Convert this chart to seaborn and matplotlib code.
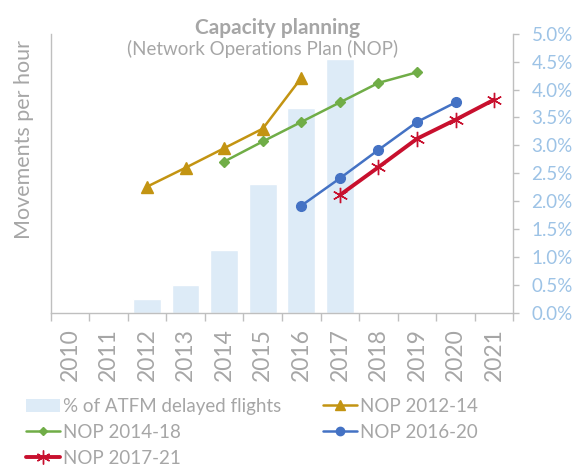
import numpy as np
import pandas as pd
import seaborn as sns
import matplotlib.pyplot as plt
from matplotlib.patches import Patch
from matplotlib.lines import Line2D
from matplotlib.ticker import FixedLocator, FuncFormatter


# data
years = ["2010", "2011", "2012", "2013", "2014", "2015",
         "2016", "2017", "2018", "2019", "2020", "2021"]
delayed_pct = [0.0, 0.0, 0.25, 0.50, 1.13, 2.31, 3.67, 4.55, 0.0, 0.0, 0.0, 0.0]

nop_1214_years = ["2012", "2013", "2014", "2015", "2016"]
nop_1214 = [2.26, 2.60, 2.95, 3.30, 4.21]
nop_1418_years = ["2014", "2015", "2016", "2017", "2018", "2019"]
nop_1418 = [2.71, 3.07, 3.42, 3.77, 4.12, 4.31]
nop_1620_years = ["2016", "2017", "2018", "2019", "2020"]
nop_1620 = [1.92, 2.41, 2.92, 3.42, 3.77]
nop_1721_years = ["2017", "2018", "2019", "2020", "2021"]
nop_1721 = [2.11, 2.61, 3.12, 3.46, 3.82]

GREY = "#A6A6A6"
AXIS = "#BFBFBF"
BAR = "#DDEBF7"
PCT = "#9DC3E6"
GOLD = "#C39412"
GREEN = "#70AD47"
BLUE = "#4472C4"
RED = "#C8102E"

sns.set_style("white")
plt.rcParams["font.family"] = ["Lato", "DejaVu Sans"]

fig = plt.figure(figsize=(5.75, 4.69), dpi=100)
ax = fig.add_axes([0.088, 0.333, 0.805, 0.595])

bars = pd.DataFrame({"year": years, "pct": delayed_pct})
sns.barplot(data=bars, x="year", y="pct", order=years, color=BAR,
            saturation=1, width=0.72, ax=ax)

pos = {y: i for i, y in enumerate(years)}
# years, values, colour, marker, size on plot, size in legend, line width, label
series = [
    (nop_1214_years, nop_1214, GOLD, "^", 8, 7, 1.8, "NOP 2012-14"),
    (nop_1418_years, nop_1418, GREEN, "D", 5.5, 4.5, 1.8, "NOP 2014-18"),
    (nop_1620_years, nop_1620, BLUE, "o", 7, 6, 1.8, "NOP 2016-20"),
    (nop_1721_years, nop_1721, RED, (6, 2, 0), 11, 10, 2.8, "NOP 2017-21"),
]
handles = {}
for yrs, vals, col, mk, ms, lms, lw, lab in series:
    df = pd.DataFrame({"x": [pos[y] for y in yrs], "v": vals})
    sns.lineplot(data=df, x="x", y="v", color=col, marker=mk, markersize=ms,
                 markeredgecolor=col, markeredgewidth=1.0, linewidth=lw, ax=ax)
    handles[lab] = Line2D([], [], color=col, marker=mk, markersize=lms,
                          markeredgecolor=col, markeredgewidth=1.0, linewidth=lw)

ax.set_xlim(-0.5, len(years) - 0.5)
ax.set_ylim(0, 5)
ax.set_xlabel("")
ax.set_ylabel("Movements per hour", color=GREY, fontsize=15.5)
ax.yaxis.set_label_coords(-0.035, 0.62)

# percentages on the right
ax.yaxis.tick_right()
ax.yaxis.set_label_position("left")
ax.set_yticks(np.arange(0, 5.01, 0.5))
ax.yaxis.set_major_formatter(FuncFormatter(lambda v, p: f"{v:.1f}%"))
ax.tick_params(axis="y", colors=AXIS, labelcolor=PCT, labelsize=13.5,
               length=4, width=1, pad=9, direction="out", right=True, left=False)

ax.set_xticks(range(len(years)))
ax.set_xticklabels(years, rotation=90)
ax.tick_params(axis="x", which="major", length=0, pad=11, labelsize=16.5, labelcolor=GREY)
ax.xaxis.set_minor_locator(FixedLocator(np.arange(-0.5, len(years), 1)))
ax.tick_params(axis="x", which="minor", length=6, width=1, colors=AXIS, bottom=True)

for side in ["left", "right", "bottom"]:
    ax.spines[side].set_color(AXIS)
    ax.spines[side].set_linewidth(1)
ax.spines["top"].set_visible(False)

fig.text(0.482, 0.941, "Capacity planning", ha="center", va="center",
         fontsize=15, fontweight="bold", color=GREY)
fig.text(0.457, 0.895, "(Network Operations Plan (NOP)", ha="center", va="center",
         fontsize=13.5, color=GREY)

order = ["% of ATFM delayed flights", "NOP 2014-18", "NOP 2017-21", "NOP 2012-14", "NOP 2016-20"]
handles["% of ATFM delayed flights"] = Patch(facecolor=BAR, edgecolor="none")
leg = fig.legend([handles[k] for k in order], order, loc="upper left",
                 bbox_to_anchor=(0.045, 0.152), ncol=2, frameon=False,
                 fontsize=13.5, handlelength=1.8, handleheight=0.7,
                 handletextpad=0.2, columnspacing=2.2, labelspacing=0.48,
                 borderpad=0, borderaxespad=0)
for t in leg.get_texts():
    t.set_color(GREY)

fig.savefig("out.png", dpi=100)
